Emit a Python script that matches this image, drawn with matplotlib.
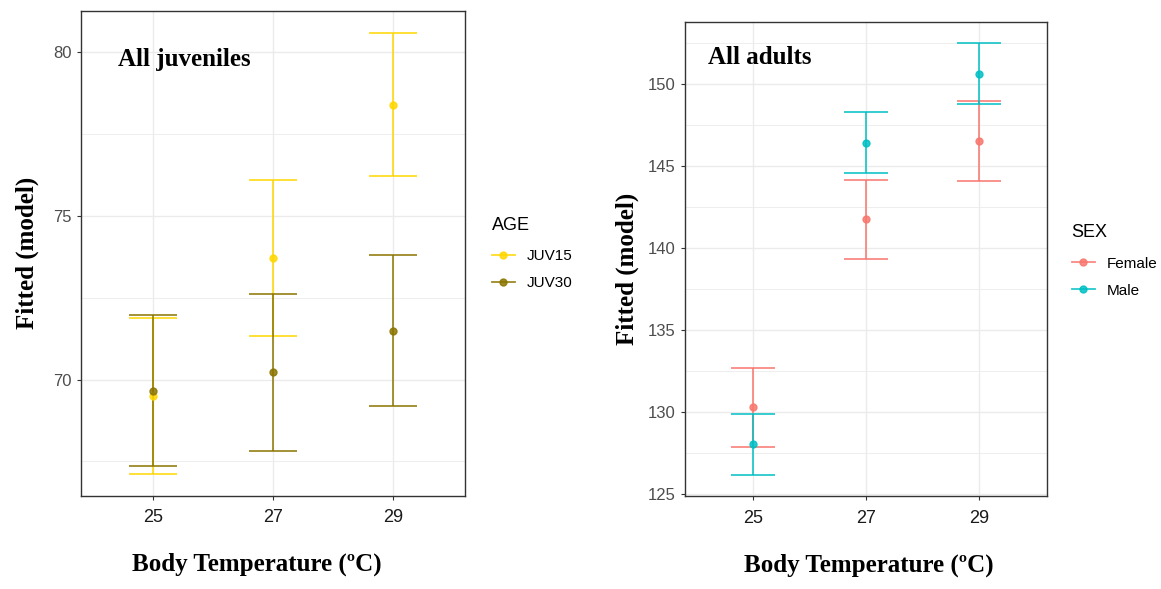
"""
Fitted body-size model vs body temperature: juveniles by age, adults by sex
"""

import numpy as np
import matplotlib.pyplot as plt
from matplotlib.lines import Line2D

# Data
TEMPS = ['25', '27', '29']

JUV15_FIT = [69.50, 73.70, 78.39]
JUV15_LOW = [67.12, 71.32, 76.20]
JUV15_HIGH = [71.88, 76.08, 80.59]

JUV30_FIT = [69.66, 70.22, 71.49]
JUV30_LOW = [67.36, 67.83, 69.18]
JUV30_HIGH = [71.96, 72.61, 73.79]

FEMALE_FIT = [130.30, 141.77, 146.53]
FEMALE_LOW = [127.88, 139.36, 144.10]
FEMALE_HIGH = [132.72, 144.20, 148.98]

MALE_FIT = [128.04, 146.44, 150.66]
MALE_LOW = [126.18, 144.60, 148.82]
MALE_HIGH = [129.88, 148.32, 152.52]

# Style
SANS = 'Liberation Sans'
SERIF = 'Liberation Serif'
GRID = '#EBEBEB'
FRAME = '#333333'
DPI = 100
OUTPUT_FILE = 'out.png'


def draw_series(ax, fit, low, high, color, capsize):
    x = np.arange(len(TEMPS))
    fit = np.array(fit)
    yerr = [fit - np.array(low), np.array(high) - fit]
    ax.errorbar(x, fit, yerr=yerr, fmt='o', color=color, ecolor=color,
                elinewidth=1.3, capsize=capsize, capthick=1.3, markersize=5,
                alpha=0.85, zorder=3)


def style_axes(ax, ylim, major, minor):
    ax.set_xlim(-0.6, 2.6)
    ax.set_ylim(*ylim)
    ax.set_xticks(np.arange(len(TEMPS)))
    ax.set_xticklabels(TEMPS)
    ax.set_yticks(major)
    ax.set_yticks(minor, minor=True)
    ax.grid(True, which='major', color=GRID, linewidth=1.0, zorder=0)
    ax.grid(True, which='minor', axis='y', color=GRID, linewidth=0.6, zorder=0)
    ax.set_axisbelow(True)
    for s in ax.spines.values():
        s.set_color(FRAME)
        s.set_linewidth(1.0)
    ax.tick_params(which='major', length=3, width=0.8, color=FRAME, pad=4)
    ax.tick_params(which='minor', length=0)
    ax.tick_params(axis='y', labelsize=12, labelcolor='#4D4D4D')
    ax.tick_params(axis='x', labelsize=13, labelcolor='#1A1A1A', pad=7)
    for lab in ax.get_xticklabels() + ax.get_yticklabels():
        lab.set_fontfamily(SANS)
    ax.set_ylabel('Fitted (model)', fontsize=18, fontweight='bold', fontfamily=SERIF)
    ax.set_xlabel('Body Temperature (ºC)', fontsize=18, fontweight='bold', fontfamily=SERIF)


def add_legend(fig, title, labels, colors, anchor):
    handles = [Line2D([], [], color=c, marker='o', markersize=5, linewidth=1.3, alpha=0.85)
               for c in colors]
    leg = fig.legend(handles, labels, title=title, loc='upper left', bbox_to_anchor=anchor,
                     frameon=False, borderpad=0, handlelength=1.5, handletextpad=0.8,
                     labelspacing=0.85, alignment='left',
                     prop={'family': SANS, 'size': 11},
                     title_fontproperties={'family': SANS, 'size': 13})
    leg._legend_box.sep = 11


def create_figure():
    fig = plt.figure(figsize=(11.61, 5.89), dpi=DPI)
    fig.patch.set_facecolor('white')

    # Juveniles
    ax1 = fig.add_axes([0.0698, 0.1587, 0.3307, 0.8226])
    draw_series(ax1, JUV15_FIT, JUV15_LOW, JUV15_HIGH, '#FFD700', 17)
    draw_series(ax1, JUV30_FIT, JUV30_LOW, JUV30_HIGH, '#8B7500', 17)
    style_axes(ax1, (66.46, 81.25), [70, 75, 80], [67.5, 72.5, 77.5])
    ax1.yaxis.set_label_coords(-0.11, 0.5)
    ax1.xaxis.set_label_coords(0.458, -0.118)
    ax1.text(0.096, 0.899, 'All juveniles', transform=ax1.transAxes, va='center',
             ha='left', fontsize=18, fontweight='bold', fontfamily=SERIF)
    add_legend(fig, 'AGE', ['JUV15', 'JUV30'], ['#FFD700', '#8B7500'], (0.4169, 0.645))

    # Adults
    ax2 = fig.add_axes([0.590, 0.158, 0.3114, 0.8046])
    draw_series(ax2, FEMALE_FIT, FEMALE_LOW, FEMALE_HIGH, '#F8766D', 16)
    draw_series(ax2, MALE_FIT, MALE_LOW, MALE_HIGH, '#00BFC4', 16)
    style_axes(ax2, (124.89, 153.81), [125, 130, 135, 140, 145, 150],
               [127.5, 132.5, 137.5, 142.5, 147.5, 152.5])
    ax2.yaxis.set_label_coords(-0.128, 0.48)
    ax2.xaxis.set_label_coords(0.508, -0.122)
    ax2.text(0.064, 0.925, 'All adults', transform=ax2.transAxes, va='center',
             ha='left', fontsize=18, fontweight='bold', fontfamily=SERIF)
    add_legend(fig, 'SEX', ['Female', 'Male'], ['#F8766D', '#00BFC4'], (0.9165, 0.632))

    fig.savefig(OUTPUT_FILE, dpi=DPI, facecolor='white')
    print(f"Saved: {OUTPUT_FILE}")


if __name__ == "__main__":
    create_figure()
